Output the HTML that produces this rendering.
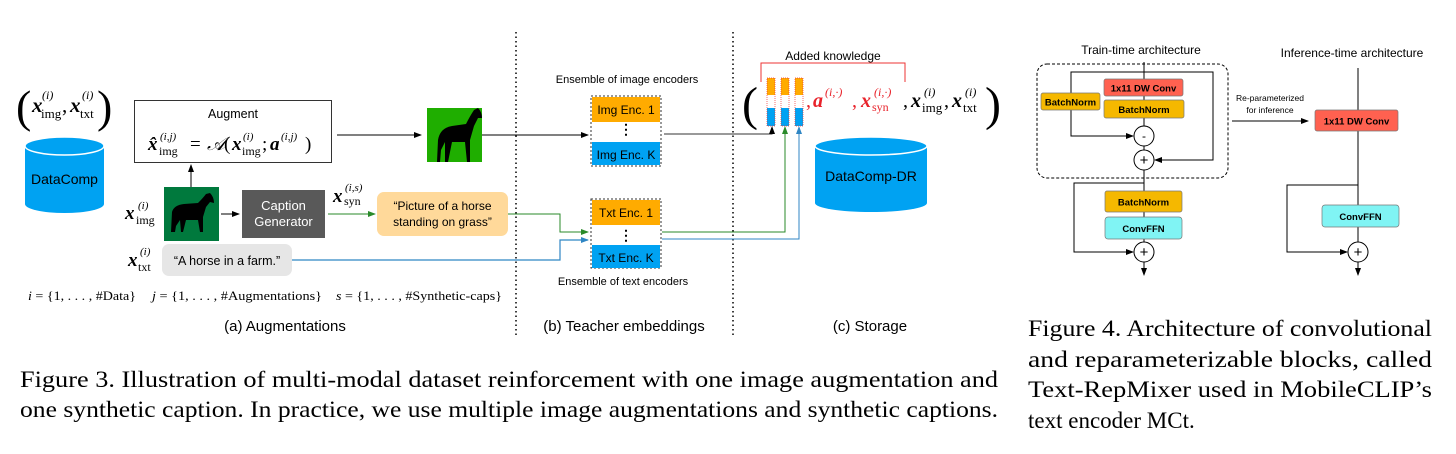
<!DOCTYPE html>
<html><head><meta charset="utf-8"><style>
html,body{margin:0;padding:0;background:#fff;}
svg{display:block;}
.s{font-family:"Liberation Sans",sans-serif;}
.m{font-family:"Liberation Serif",serif;}
.mx{font-family:"Liberation Serif",serif;font-style:italic;font-weight:bold;}
</style></head><body>
<svg width="1456" height="454" viewBox="0 0 1456 454" xmlns="http://www.w3.org/2000/svg">
<defs>
<marker id="ak" markerWidth="8" markerHeight="8" refX="7" refY="4" orient="auto" markerUnits="userSpaceOnUse"><path d="M0,1 L8,4 L0,7z" fill="#000"/></marker>
<marker id="ag" markerWidth="8" markerHeight="8" refX="7" refY="4" orient="auto" markerUnits="userSpaceOnUse"><path d="M0,1 L8,4 L0,7z" fill="#2a8a2a"/></marker>
<marker id="ab" markerWidth="8" markerHeight="8" refX="7" refY="4" orient="auto" markerUnits="userSpaceOnUse"><path d="M0,1 L8,4 L0,7z" fill="#2f86c4"/></marker>
</defs>

<line x1="516" y1="32" x2="516" y2="336" stroke="#000" stroke-width="1.5" stroke-dasharray="1.5,3"/>
<line x1="733" y1="32" x2="733" y2="336" stroke="#000" stroke-width="1.5" stroke-dasharray="1.5,3"/>

<!-- (x_img, x_txt) -->
<text x="16" y="122" class="m" font-size="46">(</text>
<text x="32" y="112" class="mx" font-size="21">x</text>
<text x="41" y="118" class="m" font-size="13">img</text>
<text x="42" y="99" class="m" font-size="12" font-style="italic">(i)</text>
<text x="62" y="112" class="m" font-size="21">,</text>
<text x="70" y="112" class="mx" font-size="21">x</text>
<text x="80" y="118" class="m" font-size="13">txt</text>
<text x="82" y="99" class="m" font-size="12" font-style="italic">(i)</text>
<text x="97" y="122" class="m" font-size="46">)</text>

<path d="M25,146 L25,204 A39.5,9 0 0 0 104,204 L104,146z" fill="#00a2f2"/>
<ellipse cx="64.5" cy="146" rx="39.5" ry="9" fill="#00a2f2" stroke="#fff" stroke-width="1.5"/>
<text x="64.5" y="184" class="s" font-size="14" text-anchor="middle">DataComp</text>

<rect x="134.5" y="100.5" width="197" height="62" fill="#fff" stroke="#333" stroke-width="1"/>
<text x="233" y="118" class="s" font-size="12.5" text-anchor="middle">Augment</text>
<text x="148" y="150" class="mx" font-size="19">x̂</text>
<text x="159" y="155" class="m" font-size="12">img</text>
<text x="160" y="140" class="m" font-size="11" font-style="italic">(i,j)</text>
<text x="190" y="150" class="m" font-size="19">=</text>
<text x="207" y="150" class="m" font-size="19" font-style="italic">𝒜</text>
<text x="224" y="150" class="m" font-size="19">(</text>
<text x="232" y="150" class="mx" font-size="19">x</text>
<text x="242" y="155" class="m" font-size="12">img</text>
<text x="243" y="140" class="m" font-size="11" font-style="italic">(i)</text>
<text x="262" y="150" class="m" font-size="19">;</text>
<text x="270" y="150" class="mx" font-size="19">a</text>
<text x="281" y="140" class="m" font-size="11" font-style="italic">(i,j)</text>
<text x="305" y="150" class="m" font-size="19">)</text>

<line x1="337" y1="135" x2="421" y2="135" stroke="#000" stroke-width="1" marker-end="url(#ak)"/>
<rect x="427" y="108" width="55" height="54" fill="#1fae00"/>
<path d="M437,162 L438,140 Q440,128 452,126 L466,124 Q470,116 474,110 L478,108 Q482,112 482,118 L478,118 L474,126 L470,140 L470,162 L467,162 L465,142 L452,142 L448,162 L445,162 L445,142 L441,150 L440,162z" fill="#000"/>
<line x1="482" y1="135" x2="588" y2="135" stroke="#000" stroke-width="1" marker-end="url(#ak)"/>

<line x1="191" y1="187" x2="191" y2="165" stroke="#000" stroke-width="1" marker-end="url(#ak)"/>
<rect x="164" y="187" width="55" height="54" fill="#00793d"/>
<path d="M171,232 L172,212 Q174,205 184,204 L198,203 Q203,198 206,194 L210,193 Q214,197 214,203 L210,202 L206,207 L203,217 L203,232 L200,232 L198,220 L186,220 L183,232 L181,232 L180,220 L176,226 L175,232z" fill="#000"/>
<text x="125" y="219" class="mx" font-size="19">x</text>
<text x="136" y="224" class="m" font-size="12">img</text>
<text x="138" y="209" class="m" font-size="11" font-style="italic">(i)</text>
<line x1="221" y1="214" x2="239" y2="214" stroke="#000" stroke-width="1" marker-end="url(#ak)"/>
<rect x="242" y="190" width="83" height="48" fill="#595959"/>
<text x="283.5" y="210" class="s" font-size="13" fill="#fff" text-anchor="middle">Caption</text>
<text x="283.5" y="226" class="s" font-size="13" fill="#fff" text-anchor="middle">Generator</text>
<text x="333" y="202" class="mx" font-size="19">x</text>
<text x="344" y="205" class="m" font-size="12">syn</text>
<text x="345" y="191" class="m" font-size="11" font-style="italic">(i,s)</text>
<line x1="328" y1="214" x2="375" y2="214" stroke="#2a8a2a" stroke-width="1" marker-end="url(#ag)"/>
<rect x="377" y="192" width="131" height="44" rx="7" fill="#ffd99a"/>
<text x="442.5" y="210" class="s" font-size="12" text-anchor="middle">“Picture of a horse</text>
<text x="442.5" y="226" class="s" font-size="12" text-anchor="middle">standing on grass”</text>

<text x="128" y="266" class="mx" font-size="19">x</text>
<text x="138" y="271" class="m" font-size="12">txt</text>
<text x="140" y="255" class="m" font-size="11" font-style="italic">(i)</text>
<rect x="162" y="244" width="130" height="32" rx="7" fill="#e6e6e6"/>
<text x="227" y="265" class="s" font-size="12.5" text-anchor="middle">“A horse in a farm.”</text>

<polyline points="508,214 560,214 560,232 588,232" fill="none" stroke="#2a8a2a" stroke-width="1" marker-end="url(#ag)"/>
<polyline points="292,260 560,260 560,240 588,240" fill="none" stroke="#2f86c4" stroke-width="1.2" marker-end="url(#ab)"/>

<text x="28" y="300" class="m" font-size="13" textLength="108" lengthAdjust="spacingAndGlyphs"><tspan font-style="italic">i</tspan> = {1, . . . , #Data}</text>
<text x="152" y="300" class="m" font-size="13" textLength="170" lengthAdjust="spacingAndGlyphs"><tspan font-style="italic">j</tspan> = {1, . . . , #Augmentations}</text>
<text x="336" y="300" class="m" font-size="13" textLength="166" lengthAdjust="spacingAndGlyphs"><tspan font-style="italic">s</tspan> = {1, . . . , #Synthetic-caps}</text>

<text x="285" y="331" class="s" font-size="15" text-anchor="middle">(a) Augmentations</text>
<text x="624" y="331" class="s" font-size="15" text-anchor="middle">(b) Teacher embeddings</text>
<text x="870" y="331" class="s" font-size="15" text-anchor="middle">(c) Storage</text>

<text x="627" y="83" class="s" font-size="11" text-anchor="middle">Ensemble of image encoders</text>
<rect x="591" y="96" width="70" height="70" fill="#fff" stroke="#333" stroke-dasharray="2,2"/>
<rect x="592" y="97" width="68" height="25" fill="#ffab00"/>
<rect x="592" y="142" width="68" height="23" fill="#00a2f2"/>
<text x="626" y="114" class="s" font-size="12" text-anchor="middle">Img Enc. 1</text>
<text x="626" y="159" class="s" font-size="12" text-anchor="middle">Img Enc. K</text>
<text x="626" y="134" class="s" font-size="14" text-anchor="middle" font-weight="bold">⋮</text>

<rect x="591" y="199" width="70" height="69" fill="#fff" stroke="#333" stroke-dasharray="2,2"/>
<rect x="592" y="200" width="68" height="25" fill="#ffab00"/>
<rect x="592" y="245" width="68" height="23" fill="#00a2f2"/>
<text x="626" y="217" class="s" font-size="12" text-anchor="middle">Txt Enc. 1</text>
<text x="626" y="262" class="s" font-size="12" text-anchor="middle">Txt Enc. K</text>
<text x="626" y="240" class="s" font-size="14" text-anchor="middle" font-weight="bold">⋮</text>
<text x="623" y="285" class="s" font-size="11" text-anchor="middle">Ensemble of text encoders</text>

<polyline points="664,134 772,134 772,127" fill="none" stroke="#333" stroke-width="1" marker-end="url(#ak)"/>
<polyline points="662,232 785,232 785,127" fill="none" stroke="#2a8a2a" stroke-width="1" marker-end="url(#ag)"/>
<polyline points="662,239 799,239 799,127" fill="none" stroke="#2f86c4" stroke-width="1" marker-end="url(#ab)"/>

<text x="742" y="120" class="m" font-size="48">(</text>
<g>
<rect x="767" y="78" width="8" height="17" fill="#ffab00"/><rect x="767" y="108" width="8" height="18" fill="#00a2f2"/>
<rect x="767" y="78" width="8" height="48" fill="none" stroke="#e33" stroke-width="0.7" stroke-dasharray="1,1"/>
<rect x="781" y="78" width="8" height="17" fill="#ffab00"/><rect x="781" y="108" width="8" height="18" fill="#00a2f2"/>
<rect x="781" y="78" width="8" height="48" fill="none" stroke="#e33" stroke-width="0.7" stroke-dasharray="1,1"/>
<rect x="795" y="78" width="8" height="17" fill="#ffab00"/><rect x="795" y="108" width="8" height="18" fill="#00a2f2"/>
<rect x="795" y="78" width="8" height="48" fill="none" stroke="#e33" stroke-width="0.7" stroke-dasharray="1,1"/>
</g>
<polyline points="761,82 761,63 905,63 905,82" fill="none" stroke="#e33" stroke-width="1"/>
<text x="833" y="60" class="s" font-size="12" text-anchor="middle">Added knowledge</text>
<text x="806" y="107" class="m" font-size="20" fill="#e8222a">,</text>
<text x="813" y="107" class="mx" font-size="20" fill="#e8222a">a</text>
<text x="825" y="96" class="m" font-size="12" font-style="italic" fill="#e8222a">(i,·)</text>
<text x="852" y="107" class="m" font-size="20" fill="#e8222a">,</text>
<text x="861" y="107" class="mx" font-size="20" fill="#e8222a">x</text>
<text x="872" y="111" class="m" font-size="12" fill="#e8222a">syn</text>
<text x="874" y="96" class="m" font-size="12" font-style="italic" fill="#e8222a">(i,·)</text>
<text x="903" y="107" class="m" font-size="20">,</text>
<text x="911" y="107" class="mx" font-size="20">x</text>
<text x="922" y="112" class="m" font-size="13">img</text>
<text x="924" y="96" class="m" font-size="12" font-style="italic">(i)</text>
<text x="944" y="107" class="m" font-size="20">,</text>
<text x="952" y="107" class="mx" font-size="20">x</text>
<text x="963" y="112" class="m" font-size="13">txt</text>
<text x="965" y="96" class="m" font-size="12" font-style="italic">(i)</text>
<text x="985" y="120" class="m" font-size="48">)</text>

<path d="M815,146 L815,203 A56,9 0 0 0 927,203 L927,146z" fill="#00a2f2"/>
<ellipse cx="871" cy="146" rx="56" ry="9" fill="#00a2f2" stroke="#fff" stroke-width="1.5"/>
<text x="871" y="181" class="s" font-size="14" text-anchor="middle">DataComp-DR</text>

<!-- Figure 4 -->
<text x="1141" y="54" class="s" font-size="12" text-anchor="middle">Train-time architecture</text>
<text x="1352" y="57" class="s" font-size="12" text-anchor="middle">Inference-time architecture</text>
<rect x="1037" y="64" width="191" height="114" rx="10" fill="none" stroke="#000" stroke-width="1" stroke-dasharray="3,2"/>
<line x1="1144" y1="62" x2="1144" y2="262" stroke="#000"/>
<polyline points="1144,72 1071,72 1071,136 1133,136" fill="none" stroke="#000" marker-end="url(#ak)"/>
<polyline points="1144,72 1213,72 1213,160 1155,160" fill="none" stroke="#000" marker-end="url(#ak)"/>
<polyline points="1144,183 1074,183 1074,252 1133,252" fill="none" stroke="#000" marker-end="url(#ak)"/>
<line x1="1144" y1="262" x2="1144" y2="275" stroke="#000" marker-end="url(#ak)"/>
<rect x="1104" y="79" width="79" height="17" rx="2" fill="#ff6150" stroke="#777" stroke-width="0.7"/>
<text x="1143.5" y="91.5" class="s" font-size="9.5" font-weight="bold" text-anchor="middle">1x11 DW Conv</text>
<rect x="1104" y="100" width="80" height="18" rx="2" fill="#f5b800" stroke="#777" stroke-width="0.7"/>
<text x="1144" y="113" class="s" font-size="9.5" font-weight="bold" text-anchor="middle">BatchNorm</text>
<rect x="1041" y="93" width="59" height="17" rx="2" fill="#f5b800" stroke="#777" stroke-width="0.7"/>
<text x="1070.5" y="105.5" class="s" font-size="9.5" font-weight="bold" text-anchor="middle">BatchNorm</text>
<circle cx="1144" cy="136" r="10" fill="#fff" stroke="#000"/>
<text x="1144" y="140" class="s" font-size="12" text-anchor="middle">-</text>
<circle cx="1144" cy="160" r="10" fill="#fff" stroke="#000"/>
<text x="1144" y="165" class="s" font-size="15" text-anchor="middle">+</text>
<rect x="1105" y="191" width="77" height="21" rx="2" fill="#f5b800" stroke="#777" stroke-width="0.7"/>
<text x="1143.5" y="205.5" class="s" font-size="9.5" font-weight="bold" text-anchor="middle">BatchNorm</text>
<rect x="1105" y="217" width="77" height="22" rx="3" fill="#80f4f4" stroke="#777" stroke-width="0.7"/>
<text x="1143.5" y="232" class="s" font-size="9.5" font-weight="bold" text-anchor="middle">ConvFFN</text>
<circle cx="1144" cy="252" r="10" fill="#fff" stroke="#000"/>
<text x="1144" y="257" class="s" font-size="15" text-anchor="middle">+</text>

<text x="1270" y="101" class="s" font-size="8.5" text-anchor="middle">Re-parameterized</text>
<text x="1270" y="113" class="s" font-size="8.5" text-anchor="middle">for inference</text>
<line x1="1232" y1="121" x2="1308" y2="121" stroke="#000" marker-end="url(#ak)"/>

<line x1="1358" y1="68" x2="1358" y2="262" stroke="#000"/>
<polyline points="1358,185 1287,185 1287,252 1347,252" fill="none" stroke="#000" marker-end="url(#ak)"/>
<line x1="1358" y1="262" x2="1358" y2="275" stroke="#000" marker-end="url(#ak)"/>
<rect x="1315" y="110" width="83" height="21" rx="2" fill="#ff6150" stroke="#777" stroke-width="0.7"/>
<text x="1356.5" y="124.5" class="s" font-size="9.5" font-weight="bold" text-anchor="middle">1x11 DW Conv</text>
<rect x="1322" y="205" width="77" height="22" rx="3" fill="#80f4f4" stroke="#777" stroke-width="0.7"/>
<text x="1360.5" y="220" class="s" font-size="9.5" font-weight="bold" text-anchor="middle">ConvFFN</text>
<circle cx="1358" cy="252" r="10" fill="#fff" stroke="#000"/>
<text x="1358" y="257" class="s" font-size="15" text-anchor="middle">+</text>

<text x="20" y="387" class="m" font-size="23" textLength="978" lengthAdjust="spacingAndGlyphs">Figure 3. Illustration of multi-modal dataset reinforcement with one image augmentation and</text>
<text x="20" y="417" class="m" font-size="23" textLength="978" lengthAdjust="spacingAndGlyphs">one synthetic caption. In practice, we use multiple image augmentations and synthetic captions.</text>
<text x="1028" y="336" class="m" font-size="23" textLength="404" lengthAdjust="spacingAndGlyphs">Figure 4. Architecture of convolutional</text>
<text x="1028" y="367" class="m" font-size="23" textLength="404" lengthAdjust="spacingAndGlyphs">and  reparameterizable  blocks,  called</text>
<text x="1028" y="397" class="m" font-size="23" textLength="404" lengthAdjust="spacingAndGlyphs">Text-RepMixer used in MobileCLIP’s</text>
<text x="1028" y="428" class="m" font-size="23">text encoder MCt.</text>
</svg>
</body></html>
